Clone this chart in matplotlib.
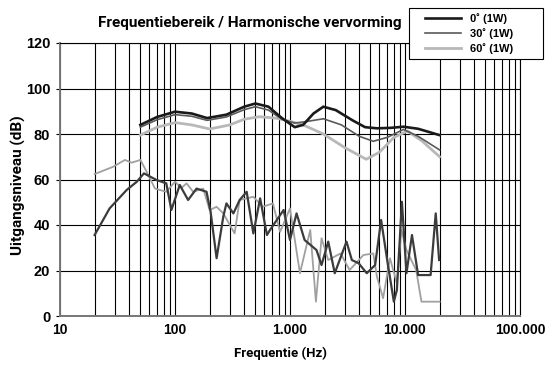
import matplotlib

matplotlib.use("Agg")

import matplotlib.pyplot as plt
from matplotlib.patches import Rectangle
from matplotlib.ticker import FixedLocator, LogLocator, NullFormatter


# frequency response curves (Hz, dB)
fr_0_freq = [50, 70, 100, 140, 190, 280, 400, 500, 650, 850, 1100, 1300, 1600,
             1950, 2500, 3500, 4500, 5700, 7500, 9700, 13000, 20000]
fr_0_db = [84, 87.5, 89.8, 89, 87, 88.5, 92, 93.4, 92, 87, 83, 84, 89,
           92, 90.5, 86, 83, 82.5, 82.7, 83.2, 82.3, 79.5]

fr_30_freq = [50, 70, 100, 140, 190, 280, 400, 500, 650, 850, 1100, 1400, 1950,
              2800, 4000, 5300, 7000, 9700, 13000, 20000]
fr_30_db = [83, 86.3, 88.5, 87.8, 86, 87.5, 90.7, 92, 90.5, 86.5, 84.8, 85.5, 86.7,
            84, 79, 76.8, 78.5, 82, 79, 73]

fr_60_freq = [50, 70, 100, 140, 200, 300, 400, 540, 750, 1000, 1300, 1950, 3000,
              4600, 6000, 8000, 10500, 14000, 20000]
fr_60_db = [79.5, 83, 85, 84, 82.2, 84, 86.5, 87.6, 87, 85.6, 84, 80, 74,
            68.9, 72, 78.5, 81.3, 77, 70]

# harmonic distortion curves (no legend entry)
hd_dark_freq = [20, 27, 38, 46.5, 53.7, 69, 84, 93, 110, 130, 154, 188, 204, 230,
                263, 280, 322, 365, 420, 480, 550, 630, 670, 880, 1000, 1140, 1340,
                1700, 1880, 2150, 2450, 3100, 3450, 3950, 4650, 5500, 6200, 7000,
                8000, 8500, 9400, 10300, 11500, 13000, 16700, 18500, 19800]
hd_dark_db = [35.6, 47.3, 55.4, 59, 62.7, 59.8, 58.3, 46.6, 57.6, 51, 56, 54.6, 45.8, 25.4,
              43.7, 49.5, 45.1, 51, 54.6, 36.3, 51.7, 35.6, 37.8, 46.6, 33.4, 45.1, 33.4,
              29, 22.4, 32.7, 18.8, 32.7, 24.6, 23.2, 18.8, 22.4, 42.2, 24.6,
              6.3, 11.4, 50.2, 18.8, 35.6, 18, 18, 45.1, 24.6]

hd_light_freq = [20, 29, 36.7, 42, 50, 56.7, 67, 84, 100, 114, 126, 144, 176, 200,
                 230, 263, 330, 365, 480, 580, 710, 820, 1000, 1220, 1500, 1680,
                 1880, 2150, 2750, 3300, 4350, 5300, 5700, 6450, 7400, 8500, 9300,
                 10300, 12500, 13900, 20000]
hd_light_db = [62.4, 65.6, 68.6, 67.4, 68.6, 63.4, 56, 54.6, 59, 56.3, 58.3, 54.6, 56, 46.6,
               48, 45.1, 36.3, 51, 52.4, 48, 49.5, 37, 47.3, 18.8, 37.8, 6.3,
               34.2, 24.6, 27.5, 20.2, 26.8, 27.5, 17.3, 7.8, 25.4, 14.4, 37.8,
               29, 20.2, 6.3, 6.3]

y_ticks = [0, 20, 40, 60, 80, 100, 120]
x_ticks = [10, 100, 1000, 10000, 100000]
x_tick_labels = ["10", "100", "1.000", "10.000", "100.000"]

legend_labels = ["0\u02da (1W)", "30\u02da (1W)", "60\u02da (1W)"]

NARROW = ["Roboto", "DejaVu Sans"]
BOLD_SANS = ["Liberation Sans", "DejaVu Sans"]

fig = plt.figure(figsize=(5.45, 3.65), dpi=100)
ax = fig.add_axes([60 / 545, 1 - 316 / 365, 460 / 545, 273 / 365])

ax.set_xscale("log")
ax.set_xlim(10, 100000)
ax.set_ylim(0, 120)

ax.xaxis.set_major_locator(FixedLocator(x_ticks))
ax.xaxis.set_minor_locator(LogLocator(base=10, subs=range(2, 10)))
ax.xaxis.set_minor_formatter(NullFormatter())
ax.set_xticks(x_ticks)
ax.set_xticklabels(x_tick_labels, fontfamily=BOLD_SANS, fontweight="bold", fontsize=10)
ax.set_yticks(y_ticks)
ax.set_yticklabels([str(v) for v in y_ticks], fontfamily=BOLD_SANS,
                   fontweight="bold", fontsize=10.5)
ax.tick_params(axis="x", which="both", length=0, pad=5)
ax.tick_params(axis="y", length=3, width=0.8, pad=4)

ax.grid(True, which="both", axis="x", color="black", linewidth=0.8)
ax.grid(True, which="major", axis="y", color="black", linewidth=0.8)
for spine in ax.spines.values():
    spine.set_color("black")
    spine.set_linewidth(0.8)
ax.spines["bottom"].set_color("#777777")
ax.spines["bottom"].set_linewidth(1.4)
ax.spines["left"].set_color("#777777")
ax.spines["left"].set_linewidth(1.4)

ax.plot(hd_light_freq, hd_light_db, color="#a0a0a0", linewidth=1.3, zorder=3)
ax.plot(hd_dark_freq, hd_dark_db, color="#3c3c3c", linewidth=1.6, zorder=4)

l0, = ax.plot(fr_0_freq, fr_0_db, color="#1a1a1a", linewidth=1.9, zorder=6)
l30, = ax.plot(fr_30_freq, fr_30_db, color="#5a5a5a", linewidth=1.2, zorder=5)
l60, = ax.plot(fr_60_freq, fr_60_db, color="#b8b8b8", linewidth=2.0, zorder=4)

fig.text(281 / 545, 1 - 353 / 365, "Frequentie (Hz)", ha="center", va="center",
         fontfamily=NARROW, fontweight="bold", fontstretch="condensed", fontsize=9.5)
fig.text(18 / 545, 1 - 185 / 365, "Uitgangsniveau (dB)", ha="center", va="center",
         rotation=90, fontfamily=NARROW, fontweight="bold", fontstretch="condensed",
         fontsize=11)
fig.text(250 / 545, 1 - 23 / 365, "Frequentiebereik / Harmonische vervorming",
         ha="center", va="center", fontfamily=NARROW, fontweight="bold",
         fontstretch="condensed", fontsize=11)

# legend box is wider than its contents in the reference
fig.patches.append(Rectangle((409 / 545, 1 - 59 / 365), 134 / 545, 51 / 365,
                             transform=fig.transFigure, facecolor="white",
                             edgecolor="black", linewidth=0.8, zorder=10))
leg = fig.legend([l0, l30, l60], legend_labels, loc="upper left",
                 bbox_to_anchor=(422 / 545, 1 - 10 / 365), frameon=False,
                 prop={"family": BOLD_SANS, "weight": "bold", "size": 8},
                 handlelength=3.2, handletextpad=0.8, borderpad=0.3,
                 labelspacing=0.35, borderaxespad=0)
leg.set_zorder(11)

fig.savefig("out.png", dpi=100)
